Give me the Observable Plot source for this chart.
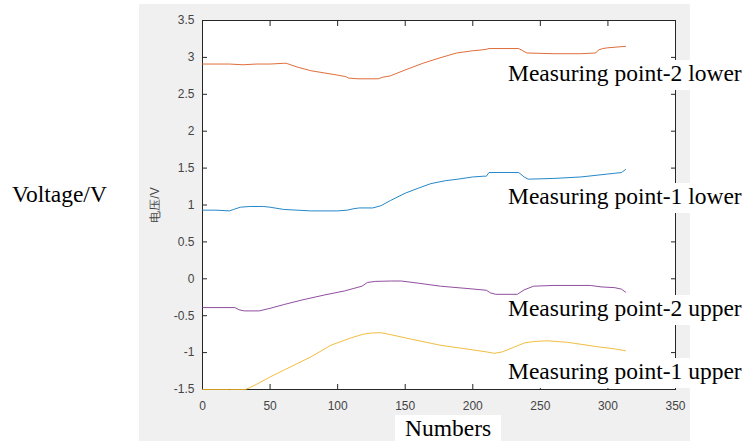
<!DOCTYPE html>
<html>
<head>
<meta charset="utf-8">
<script src="https://cdn.jsdelivr.net/npm/d3@7"></script>
<script src="https://cdn.jsdelivr.net/npm/@observablehq/plot@0.6"></script>
<style>
  body { margin: 0; background: white; }
  #wrap { position: relative; width: 750px; height: 441px; overflow: hidden; background: white; }
  #bg { position: absolute; left: 139px; top: 4px; width: 551px; height: 437px; background: #f0f0f0; }
  #chart { position: absolute; left: 0; top: 0; }
  .lab { position: absolute; font-family: "Liberation Serif", "Times New Roman", serif; font-size: 23.5px; line-height: 23.5px;
         color: #000; background: white; padding: 2px 6px 4px 3px; white-space: nowrap; }
</style>
</head>
<body>
<div id="wrap">
  <div id="bg"></div>
  <div id="chart"></div>
  <div class="lab" style="left:9px; top:181px; background:transparent;">Voltage/V</div>
  <div class="lab" style="left:395px; top:415px; padding:2px 10px 6px 10px;">Numbers</div>
  <div class="lab" style="left:505px; top:60px;">Measuring point-2 lower</div>
  <div class="lab" style="left:505px; top:183px;">Measuring point-1 lower</div>
  <div class="lab" style="left:505px; top:295px;">Measuring point-2 upper</div>
  <div class="lab" style="left:505px; top:358px;">Measuring point-1 upper</div>
</div>
<script>
// Measuring point-2 lower (orange)
const p2LowerX = [0, 10, 20, 30, 40, 50, 60, 62, 70, 80, 90, 100, 106, 108, 115, 130, 133, 139, 150, 163, 175, 188, 200, 206, 210, 212, 234, 237, 240, 260, 280, 291, 293, 296, 300, 313];
const p2LowerV = [2.91, 2.91, 2.91, 2.90, 2.91, 2.91, 2.92, 2.92, 2.87, 2.82, 2.79, 2.76, 2.74, 2.72, 2.71, 2.71, 2.73, 2.75, 2.83, 2.92, 2.99, 3.06, 3.09, 3.10, 3.11, 3.12, 3.12, 3.09, 3.06, 3.05, 3.05, 3.06, 3.10, 3.12, 3.13, 3.15];
// Measuring point-1 lower (blue)
const p1LowerX = [0, 10, 20, 23, 28, 35, 45, 50, 60, 70, 80, 90, 100, 107, 112, 116, 126, 132, 139, 150, 160, 169, 180, 189, 200, 208, 210, 212, 234, 238, 241, 260, 280, 300, 305, 310, 313];
const p1LowerV = [0.93, 0.93, 0.92, 0.94, 0.97, 0.98, 0.98, 0.97, 0.94, 0.93, 0.92, 0.92, 0.92, 0.93, 0.95, 0.96, 0.96, 0.99, 1.06, 1.16, 1.23, 1.29, 1.33, 1.35, 1.38, 1.39, 1.39, 1.44, 1.44, 1.38, 1.35, 1.36, 1.38, 1.42, 1.43, 1.44, 1.48];
// Measuring point-2 upper (purple)
const p2UpperX = [0, 24, 27, 31, 42, 50, 60, 73, 90, 105, 112, 118, 122, 128, 140, 147, 160, 176, 195, 210, 213, 217, 233, 238, 245, 260, 287, 295, 305, 310, 313];
const p2UpperV = [-0.39, -0.39, -0.42, -0.435, -0.435, -0.40, -0.35, -0.29, -0.22, -0.165, -0.13, -0.10, -0.05, -0.035, -0.03, -0.03, -0.06, -0.10, -0.13, -0.155, -0.19, -0.21, -0.21, -0.15, -0.10, -0.09, -0.09, -0.11, -0.12, -0.14, -0.18];
// Measuring point-1 upper (yellow)
const p1UpperX = [0, 20, 32, 40, 50, 60, 70, 80, 95, 110, 119, 125, 132, 140, 155, 176, 195, 210, 216, 222, 230, 238, 245, 255, 270, 292, 305, 313];
const p1UpperV = [-1.50, -1.50, -1.50, -1.43, -1.33, -1.24, -1.15, -1.06, -0.90, -0.80, -0.75, -0.735, -0.73, -0.76, -0.82, -0.90, -0.95, -0.99, -1.01, -0.99, -0.93, -0.87, -0.85, -0.84, -0.86, -0.92, -0.95, -0.975];

const xTicks = [0, 50, 100, 150, 200, 250, 300, 350];
const yTicks = [-1.5, -1, -0.5, 0, 0.5, 1, 1.5, 2, 2.5, 3, 3.5];
const seriesNames = ["Measuring point-2 lower", "Measuring point-1 lower", "Measuring point-2 upper", "Measuring point-1 upper"];
const seriesColors = ["#D95319", "#0072BD", "#7E2F8E", "#EDB120"];

const xs = [p2LowerX, p1LowerX, p2UpperX, p1UpperX];
const vs = [p2LowerV, p1LowerV, p2UpperV, p1UpperV];
const data = seriesNames.flatMap((name, i) => xs[i].map((x, j) => ({series: name, x, v: vs[i][j]})));

const axisColor = "#262626";
const tickText = "#444444";

const chart = Plot.plot({
  width: 750,
  height: 441,
  marginLeft: 202,
  marginRight: 75,
  marginTop: 20,
  marginBottom: 52,
  style: {background: "transparent", fontFamily: "'Liberation Sans', Arial, sans-serif", fontSize: "12px", color: tickText, overflow: "visible"},
  x: {domain: [0, 350]},
  y: {domain: [-1.5, 3.5]},
  color: {domain: seriesNames, range: seriesColors},
  marks: [
    Plot.frame({fill: "white"}),
    Plot.axisX({ticks: xTicks, tickSize: -5, tickPadding: 17, tickFormat: d => String(d), label: null, stroke: axisColor, fill: tickText}),
    Plot.axisX({anchor: "top", ticks: xTicks, tickSize: -5, tickFormat: () => "", label: null, stroke: axisColor}),
    Plot.axisY({ticks: yTicks, tickSize: -5, tickPadding: 13, tickFormat: d => String(d), stroke: axisColor, fill: tickText,
                label: "电压/V", labelAnchor: "center", labelOffset: 52, labelArrow: "none"}),
    Plot.axisY({anchor: "right", ticks: yTicks, tickSize: -5, tickFormat: () => "", label: null, stroke: axisColor}),
    Plot.frame({stroke: axisColor, strokeWidth: 1}),
    Plot.line(data, {x: "x", y: "v", z: "series", stroke: "series", strokeWidth: 1, strokeOpacity: 0.85})
  ]
});
document.getElementById("chart").appendChild(chart);
</script>
</body>
</html>
